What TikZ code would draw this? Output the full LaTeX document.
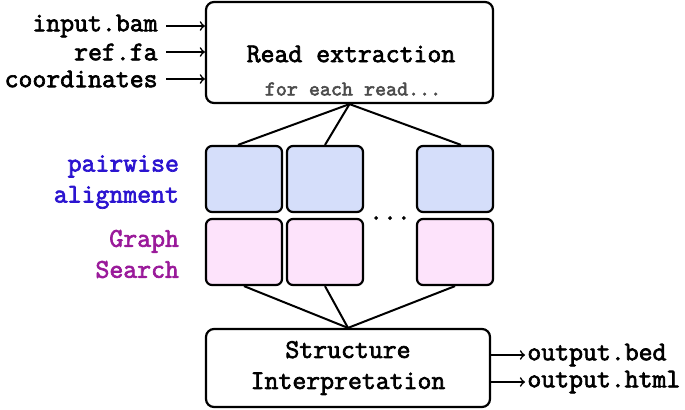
\documentclass[tikz,border=0pt]{standalone}
\usepackage{fontspec}
\setmonofont{Latin Modern Mono}[BoldFont={Latin Modern Mono}, BoldFeatures={FakeBold=2.5}]
\usetikzlibrary{arrows,positioning}
\definecolor{alnblue}{HTML}{2B14D0}
\definecolor{srchpurple}{HTML}{9A1A9A}
\definecolor{alnfill}{HTML}{D5DEFA}
\definecolor{srchfill}{HTML}{FDE3FB}
\tikzset{
  every node/.style={font=\ttfamily\bfseries\fontsize{13.5}{15.5}\selectfont},
  bigbox/.style={draw, line width=1.1pt, rounded corners=4pt},
  cell/.style={draw, line width=1.1pt, rounded corners=3pt, minimum width=38pt, minimum height=33pt},
  link/.style={line width=1pt},
  flow/.style={->, >=to, line width=0.8pt}
}
\begin{document}
\begin{tikzpicture}[x=0.5pt,y=-0.5pt]
\useasboundingbox (0,0) rectangle (685,409);

\node[bigbox, minimum width=143.5pt, minimum height=50.5pt](ext) at (349.5,52.5){};
\node(extt) at (351,54){Read extraction};
\node[text=black!70, font=\ttfamily\bfseries\fontsize{10.5}{12}\selectfont](each) at (353,89){for each read...};

\node[anchor=east, inner sep=4pt](in1) at (166,26){input.bam};
\node[anchor=east, inner sep=4pt](in2) at (166,52){ref.fa};
\node[anchor=east, inner sep=4pt](in3) at (166,79){coordinates};

\node[cell, fill=alnfill](a1) at (244,179){};
\node[cell, fill=alnfill](a2) at (325,179){};
\node[cell, fill=alnfill](a3) at (455,179){};
\node[cell, fill=srchfill](s1) at (244,252){};
\node[cell, fill=srchfill](s2) at (325,252){};
\node[cell, fill=srchfill](s3) at (455,252){};
\node(dots) at (390,218){...};

\node[text=alnblue, align=right, anchor=east](aln) at (186,182){pairwise\\alignment};
\node[text=srchpurple, align=right, anchor=east](srch) at (186,254){Graph\\Search};

\node[bigbox, minimum width=142pt, minimum height=39pt, align=center](sv) at (348,368){Structure\\Interpretation};

\node[anchor=west, inner sep=1pt](out1) at (525,355){output.bed};
\node[anchor=west, inner sep=1pt](out2) at (525,382){output.html};

\draw[flow] (in1) -- (in1 -| ext.west);
\draw[flow] (in2) -- (in2 -| ext.west);
\draw[flow] (in3) -- (in3 -| ext.west);

\draw[link] (ext.south) -- ([xshift=-3pt]a1.north);
\draw[link] (ext.south) -- (a2.north);
\draw[link] (ext.south) -- ([xshift=3pt]a3.north);

\draw[link] (s1.south) -- (sv.north);
\draw[link] (s2.south) -- (sv.north);
\draw[link] (s3.south) -- (sv.north);

\draw[flow] (sv.east |- out1) -- (out1);
\draw[flow] (sv.east |- out2) -- (out2);

\end{tikzpicture}
\end{document}
